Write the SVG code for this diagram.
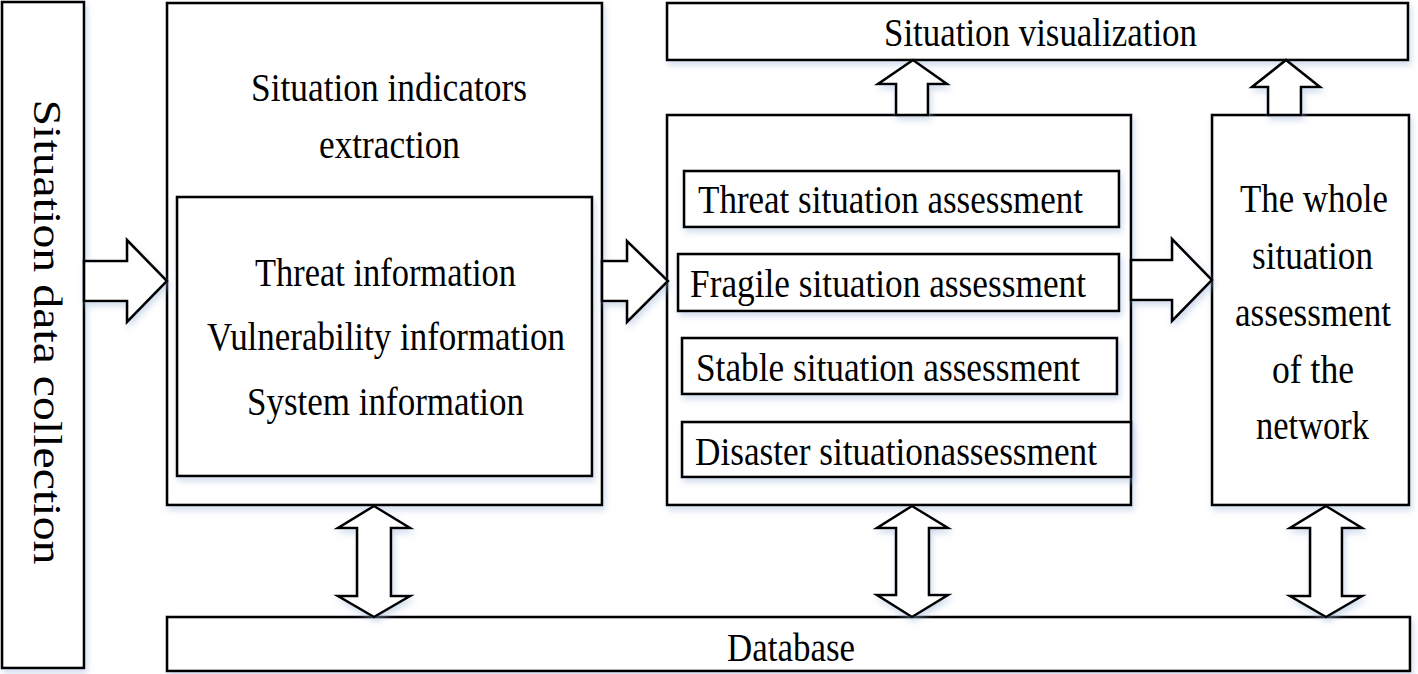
<svg xmlns="http://www.w3.org/2000/svg" width="1418" height="674" viewBox="0 0 1418 674">
<style>
.box{fill:#fff;stroke:#000;stroke-width:2.6}
.arr{fill:#fff;stroke:#000;stroke-width:2.6;stroke-linejoin:miter}
.t{font-family:"Liberation Serif","Times New Roman",serif;font-size:40px;fill:#000}
</style>
<defs>
<filter id="sh" x="-10%" y="-10%" width="125%" height="130%">
<feDropShadow dx="2" dy="4" stdDeviation="3" flood-color="#9bb3d6" flood-opacity="0.45"/>
</filter>
</defs>
<rect width="1418" height="674" fill="#fff"/>
<g id="collection">
<rect class="box" x="2" y="2" width="82" height="666" filter="url(#sh)"/>
<text class="t" transform="translate(34,332) rotate(90)" text-anchor="middle" textLength="465" lengthAdjust="spacingAndGlyphs">Situation data collection</text>
</g>
<g id="extraction">
<rect class="box" x="167" y="3" width="435" height="502" filter="url(#sh)"/>
<text class="t" x="251" y="101" textLength="276" lengthAdjust="spacingAndGlyphs">Situation indicators</text>
<text class="t" x="319" y="158" textLength="141" lengthAdjust="spacingAndGlyphs">extraction</text>
</g>
<g id="information">
<rect class="box" x="177" y="197" width="415" height="279" filter="url(#sh)"/>
<text class="t" x="255" y="286" textLength="261" lengthAdjust="spacingAndGlyphs">Threat information</text>
<text class="t" x="207" y="350" textLength="358" lengthAdjust="spacingAndGlyphs">Vulnerability information</text>
<text class="t" x="247" y="415" textLength="277" lengthAdjust="spacingAndGlyphs">System information</text>
</g>
<g id="visualization">
<rect class="box" x="667" y="3" width="741" height="57" filter="url(#sh)"/>
<text class="t" x="884" y="46" textLength="313" lengthAdjust="spacingAndGlyphs">Situation visualization</text>
</g>
<g id="assessment">
<rect class="box" x="667" y="115" width="464" height="390" filter="url(#sh)"/>
</g>
<g id="threat">
<rect class="box" x="684" y="171" width="435" height="56" filter="url(#sh)"/>
<text class="t" x="698" y="213" textLength="385" lengthAdjust="spacingAndGlyphs">Threat situation assessment</text>
</g>
<g id="fragile">
<rect class="box" x="678" y="254" width="441" height="57" filter="url(#sh)"/>
<text class="t" x="690" y="297" textLength="396" lengthAdjust="spacingAndGlyphs">Fragile situation assessment</text>
</g>
<g id="stable">
<rect class="box" x="682" y="338" width="435" height="56" filter="url(#sh)"/>
<text class="t" x="696" y="381" textLength="384" lengthAdjust="spacingAndGlyphs">Stable situation assessment</text>
</g>
<g id="disaster">
<rect class="box" x="682" y="422" width="449" height="55" filter="url(#sh)"/>
<text class="t" x="695" y="465" textLength="402" lengthAdjust="spacingAndGlyphs">Disaster situationassessment</text>
</g>
<g id="whole">
<rect class="box" x="1212" y="115" width="197" height="390" filter="url(#sh)"/>
<text class="t" x="1240" y="212" textLength="148" lengthAdjust="spacingAndGlyphs">The whole</text>
<text class="t" x="1252" y="269" textLength="121" lengthAdjust="spacingAndGlyphs">situation</text>
<text class="t" x="1235" y="326" textLength="156" lengthAdjust="spacingAndGlyphs">assessment</text>
<text class="t" x="1272" y="383" textLength="82" lengthAdjust="spacingAndGlyphs">of the</text>
<text class="t" x="1256" y="439" textLength="113" lengthAdjust="spacingAndGlyphs">network</text>
</g>
<g id="database">
<rect class="box" x="167" y="617" width="1243" height="54" filter="url(#sh)"/>
<text class="t" x="727" y="661" textLength="128" lengthAdjust="spacingAndGlyphs">Database</text>
</g>
<g id="connectors">
<polygon class="arr" filter="url(#sh)" points="84,261 127,261 127,240 167,281 127,322 127,301 84,301"/>
<polygon class="arr" filter="url(#sh)" points="602,261 627,261 627,241 668,281 627,322 627,301 602,301"/>
<polygon class="arr" filter="url(#sh)" points="1131,260 1172,260 1172,239 1212,280 1172,321 1172,300 1131,300"/>
<polygon class="arr" filter="url(#sh)" points="896,115 896,84 878,84 913,60 947,84 928,84 928,115"/>
<polygon class="arr" filter="url(#sh)" points="1268,115 1268,87 1252,87 1286,60 1320,87 1301,87 1301,115"/>
<polygon class="arr" filter="url(#sh)" points="374,506 410,528 391,528 391,596 410,596 374,617 338,596 357,596 357,528 338,528"/>
<polygon class="arr" filter="url(#sh)" points="912,506 948,528 929,528 929,595 948,595 912,617 877,595 896,595 896,528 877,528"/>
<polygon class="arr" filter="url(#sh)" points="1326,506 1362,528 1342,528 1342,596 1362,596 1326,617 1290,596 1310,596 1310,528 1290,528"/>
</g>
</svg>
